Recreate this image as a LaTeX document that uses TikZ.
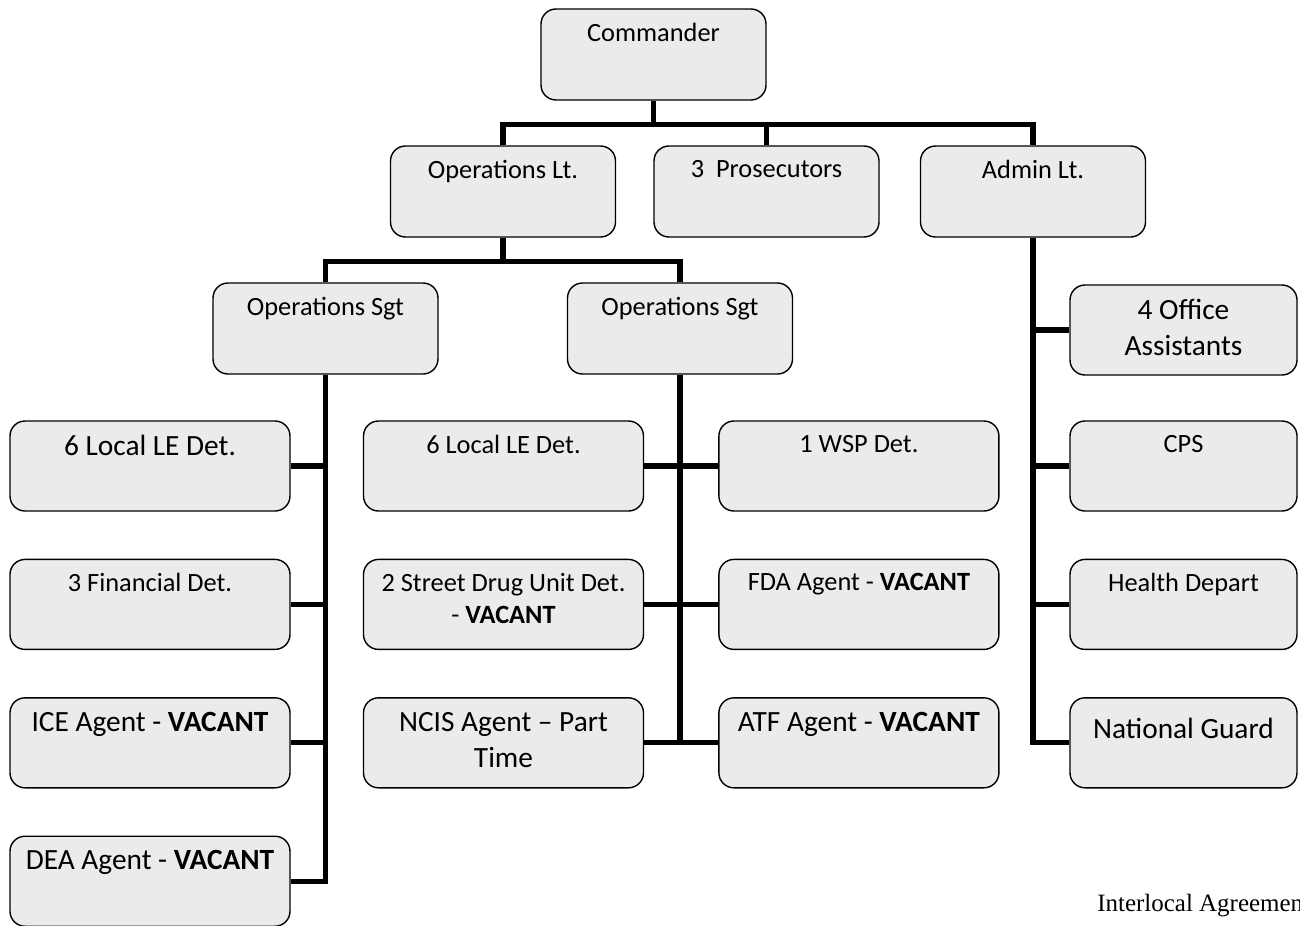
\documentclass[tikz,border=0pt]{standalone}
\usepackage{fontspec}
\setmainfont{Carlito}
\newfontfamily\notefont{Liberation Serif}
\usetikzlibrary{positioning,backgrounds}

\begin{document}
\begin{tikzpicture}[
    x=0.2mm, y=-0.2mm,
    box/.style={
        rectangle,
        rounded corners=3mm,
        draw,
        line width=0.8pt,
        fill=black!8,
        minimum height=18.2mm,
        minimum width=45mm,
        inner sep=0pt
    },
    widebox/.style={box, minimum width=56mm, minimum height=18mm},
    sidebox/.style={box, minimum width=45.4mm, minimum height=18mm},
    txt/.style={anchor=north, yshift=-2.9mm, inner sep=0pt, align=center,
        font=\fontsize{15}{18}\selectfont},
    bigtxt/.style={txt, font=\fontsize{16.7}{20.5}\selectfont},
    line/.style={draw, line width=3pt, line join=miter}
]
\useasboundingbox (0,0) rectangle (1300,926);

% Top of the chart
\node [box, label={[txt]north:Commander}] (cmd) at (653.5,54.5) {};

\node [box, label={[txt]north:Operations Lt.}] (opslt) at (503,191.5) {};
\node [box, label={[txt]north:3\ \ Prosecutors}] (pros) at (766.5,191.5) {};
\node [box, label={[txt]north:Admin Lt.}] (adminlt) at (1033,191.5) {};

\node [box, label={[txt]north:Operations Sgt}] (sgtL) at (325.5,328.5) {};
\node [box, label={[txt]north:Operations Sgt}] (sgtR) at (680,328.5) {};

% Left column
\node [widebox, label={[bigtxt]north:6 Local LE Det.}] (lleL) at (150,466) {};
\node [widebox, below=9.4mm of lleL, label={[txt]north:3 Financial Det.}] (fin) {};
\node [widebox, below=9.4mm of fin, label={[bigtxt]north:ICE Agent - \textbf{VACANT}}] (ice) {};
\node [widebox, below=9.4mm of ice, label={[bigtxt]north:DEA Agent - \textbf{VACANT}}] (dea) {};

% Middle columns
\node [widebox, label={[txt]north:6 Local LE Det.}] (lleM) at (503.5,466) {};
\node [widebox, below=9.4mm of lleM, label={[txt]north:{2 Street Drug Unit Det.\\- \textbf{VACANT}}}] (sdu) {};
\node [widebox, below=9.4mm of sdu, label={[bigtxt]north:{NCIS Agent – Part\\Time}}] (ncis) {};

\node [widebox, right=14.8mm of lleM, label={[txt]north:1 WSP Det.}] (wsp) {};
\node [widebox, right=14.8mm of sdu, label={[txt]north:FDA Agent - \textbf{VACANT}}] (fda) {};
\node [widebox, right=14.8mm of ncis, label={[bigtxt]north:ATF Agent - \textbf{VACANT}}] (atf) {};

% Admin side
\node [sidebox, label={[bigtxt]north:{4 Office\\Assistants}}] (office) at (1183.5,330) {};
\node [sidebox, label={[txt]north:CPS}] (cps) at (1183.5,466) {};
\node [sidebox, below=9.4mm of cps, label={[txt]north:Health Depart}] (health) {};
\node [sidebox, below=9.4mm of health, label={[bigtxt, yshift=-1.2mm]north:National Guard}] (guard) {};

\node [anchor=base west, inner sep=0pt, font=\notefont\fontsize{14.2}{17}\selectfont] (note) at (1097,911) {Interlocal Agreement};

% Connections
\begin{scope}[on background layer]
\draw [line] (cmd.south) -- ++(0,24) -| (opslt.north);
\draw [line] (cmd.south) -- ++(0,24) -| (pros.north);
\draw [line] (cmd.south) -- ++(0,24) -| (adminlt.north);

\draw [line] (opslt.south) -- ++(0,24) -| (sgtL.north);
\draw [line] (opslt.south) -- ++(0,24) -| (sgtR.north);

\foreach \n in {lleL, fin, ice, dea}
    \draw [line] (sgtL.south) |- (\n.east);
\foreach \n in {lleM, sdu, ncis}
    \draw [line] (sgtR.south) |- (\n.east);
\foreach \n in {wsp, fda, atf}
    \draw [line] (sgtR.south) |- (\n.west);
\foreach \n in {office, cps, health, guard}
    \draw [line] (adminlt.south) |- (\n.west);
\end{scope}

\end{tikzpicture}
\end{document}
